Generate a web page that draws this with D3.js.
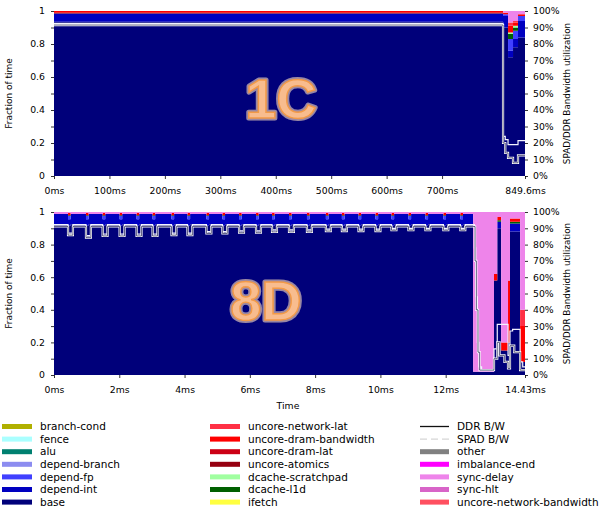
<!DOCTYPE html>
<meta charset="utf-8">
<html>
<head>
<script src="https://d3js.org/d3.v7.min.js"></script>
<style>
  body { margin: 0; background: #fff; }
  text { font-family: "DejaVu Sans", sans-serif; }
</style>
</head>
<body>
<div id="chart"></div>
<script>

// legend, three columns as in the figure
var legendCols = [
    ["branch-cond", "fence", "alu", "depend-branch", "depend-fp", "depend-int", "base"],
    ["uncore-network-lat", "uncore-dram-bandwidth", "uncore-dram-lat", "uncore-atomics", "dcache-scratchpad", "dcache-l1d", "ifetch"],
    ["DDR B/W", "SPAD B/W", "other", "imbalance-end", "sync-delay", "sync-hlt", "uncore-network-bandwidth"]
];

var colors = {
    "branch-cond": "#b0b000", "fence": "#aaffff", "alu": "#008070", "depend-branch": "#8c8cf0",
    "depend-fp": "#4040ff", "depend-int": "#0000c0", "base": "#00007a",
    "uncore-network-lat": "#ff3045", "uncore-dram-bandwidth": "#ff0000", "uncore-dram-lat": "#cc0015",
    "uncore-atomics": "#960010", "dcache-scratchpad": "#a0ffa0", "dcache-l1d": "#006000", "ifetch": "#ffff40",
    "other": "#808080", "imbalance-end": "#ff00ff", "sync-delay": "#ee84ea", "sync-hlt": "#d864c8",
    "uncore-network-bandwidth": "#ff5060"
};

// stacking order, bottom to top
var stackOrder = ["base", "depend-int", "depend-fp", "depend-branch", "alu", "fence", "branch-cond", "ifetch",
    "dcache-l1d", "dcache-scratchpad", "uncore-atomics", "uncore-dram-lat", "uncore-dram-bandwidth",
    "uncore-network-lat", "uncore-network-bandwidth", "sync-hlt", "sync-delay", "imbalance-end", "other"];

// ---- 1C run (ms) ----
var end1C = 849.6;
var ticks1C = [0, 100, 200, 300, 400, 500, 600, 700, 849.6];
var t1C         = [0,     810,  819,  828,  837];
var base1C      = [0.935, 0.90, 0.72, 0.78, 0.84];
var dependInt1C = [0.050, 0.07, 0.04, 0.05, 0.10];
var dependFp1C  = [0,     0.01, 0.07, 0.05, 0.03];
var dcacheL1d1C = [0,     0,    0.03, 0.02, 0];
var dcacheSp1C  = [0,     0,    0.01, 0.01, 0];
var atomics1C   = [0.005, 0,    0,    0,    0];
var dramBw1C    = [0.010, 0.01, 0.04, 0.02, 0.01];
var netLat1C    = [0,     0,    0.02, 0.01, 0];
var syncDelay1C = [0,     0.01, 0.07, 0.06, 0.02];

var spadT1C = [0,     810,  814,  819,  828,  837];
var spadV1C = [0.925, 0.24, 0.22, 0.19, 0.19, 0.215];
var ddrT1C  = [0,     810,  814,  819,  828,  837];
var ddrV1C  = [0.915, 0.20, 0.14, 0.11, 0.08, 0.125];

// ---- 8D run (ms) ----
var end8D = 14.43;
var ticks8D = [0, 2, 4, 6, 8, 10, 12, 14.43];
var dipT8D = [0.43, 0.98, 1.49, 2.01, 2.53, 3.02, 3.60, 4.09, 4.67, 5.16, 5.67, 6.19,
              6.68, 7.20, 7.75, 8.33, 8.82, 9.33, 9.85, 10.34, 10.86, 11.38, 11.93, 12.45];
var dipSpad8D = [0.87, 0.855, 0.865, 0.865, 0.865, 0.865, 0.87, 0.87, 0.88, 0.88, 0.885, 0.885,
                 0.89, 0.89, 0.89, 0.895, 0.895, 0.895, 0.895, 0.90, 0.90, 0.90, 0.90, 0.90];
var dipDdr8D  = [0.858, 0.843, 0.853, 0.853, 0.853, 0.853, 0.858, 0.858, 0.868, 0.868, 0.873, 0.873,
                 0.878, 0.878, 0.878, 0.883, 0.883, 0.883, 0.883, 0.888, 0.888, 0.888, 0.888, 0.888];
var dipLen8D = 0.15, spikeLen8D = 0.08;
var spadLevel8D = 0.922, ddrLevel8D = 0.911;
var steady8D = { "base": 0.925, "depend-int": 0.063, "sync-delay": 0.012 };
var spike8D  = { "base": 0.915, "depend-int": 0.04, "depend-fp": 0.02, "dcache-l1d": 0.005,
                 "uncore-dram-bandwidth": 0.015, "sync-delay": 0.005 };

var tailT8D      = [12.84, 13.48, 13.58, 13.70, 13.91, 13.97, 14.28];
var tailBase8D   = [0.02,  0.58,  0.90,  0.15,  0.20,  0.88,  0.08];
var tailInt8D    = [0,     0,     0.04,  0,     0,     0.05,  0];
var tailL1d8D    = [0,     0,     0.01,  0,     0,     0.01,  0];
var tailDramBw8D = [0,     0.04,  0.02,  0.05,  0.38,  0.02,  0.22];
var tailNetLat8D = [0,     0,     0,     0,     0,     0,     0.10];
var tailSync8D   = [0.98,  0.38,  0.03,  0.80,  0.42,  0.04,  0.60];

var spadTailT8D = [12.84, 12.88, 12.92, 12.97, 13.02, 13.10, 13.48, 13.58, 13.91, 13.97, 14.05, 14.28, 14.36];
var spadTailV8D = [0.922, 0.78,  0.48,  0.20,  0.05,  0.03,  0.16,  0.31,  0.12,  0.27,  0.28,  0.08,  0.05];
var ddrTailT8D  = [12.84, 12.90, 12.94, 12.99, 13.04, 13.48, 13.58, 13.65, 13.80, 13.91, 13.97, 14.10, 14.28];
var ddrTailV8D  = [0.911, 0.70,  0.40,  0.14,  0.03,  0.10,  0.20,  0.12,  0.08,  0.04,  0.18,  0.14,  0.03];

// build the rows for the stacks
var rows1C = t1C.map(function (t, i) {
    return { t: t, "base": base1C[i], "depend-int": dependInt1C[i], "depend-fp": dependFp1C[i],
        "dcache-l1d": dcacheL1d1C[i], "dcache-scratchpad": dcacheSp1C[i], "uncore-atomics": atomics1C[i],
        "uncore-dram-bandwidth": dramBw1C[i], "uncore-network-lat": netLat1C[i], "sync-delay": syncDelay1C[i] };
});
rows1C.push(Object.assign({}, rows1C[rows1C.length - 1], { t: end1C }));

var rows8D = [Object.assign({ t: 0 }, steady8D)];
dipT8D.forEach(function (t) {
    rows8D.push(Object.assign({ t: t }, spike8D));
    rows8D.push(Object.assign({ t: t + spikeLen8D }, steady8D));
});
tailT8D.forEach(function (t, i) {
    rows8D.push({ t: t, "base": tailBase8D[i], "depend-int": tailInt8D[i], "dcache-l1d": tailL1d8D[i],
        "uncore-dram-bandwidth": tailDramBw8D[i], "uncore-network-lat": tailNetLat8D[i], "sync-delay": tailSync8D[i] });
});
rows8D.push(Object.assign({}, rows8D[rows8D.length - 1], { t: end8D }));

function zipPts(ts, vs, end) {
    var p = ts.map(function (t, i) { return [t, vs[i]]; });
    p.push([end, vs[vs.length - 1]]);
    return p;
}
function dipPts(level, dipVals, tailT, tailV, end) {
    var p = [[0, level]];
    dipT8D.forEach(function (t, i) { p.push([t, dipVals[i]]); p.push([t + dipLen8D, level]); });
    tailT.forEach(function (t, i) { p.push([t, tailV[i]]); });
    p.push([end, tailV[tailV.length - 1]]);
    return p;
}

var spad1C = zipPts(spadT1C, spadV1C, end1C);
var ddr1C = zipPts(ddrT1C, ddrV1C, end1C);
var spad8D = dipPts(spadLevel8D, dipSpad8D, spadTailT8D, spadTailV8D, end8D);
var ddr8D = dipPts(ddrLevel8D, dipDdr8D, ddrTailT8D, ddrTailV8D, end8D);

// ---- drawing ----
var W = 602, H = 512;
var left = 54, right = 525;

var svg = d3.select("#chart").append("svg")
    .attr("width", W).attr("height", H)
    .style("background", "#fff");

function panel(opts) {
    var x = d3.scaleLinear().domain([0, opts.end]).range([left, right]);
    var y = d3.scaleLinear().domain([0, 1]).range([opts.bottom, opts.top]);
    var yPct = d3.scaleLinear().domain([0, 100]).range([opts.bottom, opts.top]);
    var g = svg.append("g");

    var series = d3.stack().keys(stackOrder)
        .value(function (d, k) { return d[k] || 0; })(opts.rows);

    var area = d3.area().curve(d3.curveStepAfter)
        .x(function (d) { return x(d.data.t); })
        .y0(function (d) { return y(d[0]); })
        .y1(function (d) { return y(Math.min(1, d[1])); });

    g.selectAll("path.layer").data(series).join("path")
        .attr("class", "layer")
        .attr("fill", function (d) { return colors[d.key]; })
        .attr("d", area);

    var line = d3.line().curve(d3.curveStepAfter)
        .x(function (d) { return x(d[0]); })
        .y(function (d) { return y(d[1]); });

    // SPAD and DDR bandwidth lines
    g.append("path").attr("d", line(opts.spad)).attr("fill", "none")
        .attr("stroke", "#f2f2ff").attr("stroke-width", 1.2);
    g.append("path").attr("d", line(opts.ddr)).attr("fill", "none")
        .attr("stroke", "#ffffff").attr("stroke-width", 2.2);
    g.append("path").attr("d", line(opts.ddr)).attr("fill", "none")
        .attr("stroke", "#202050").attr("stroke-width", 0.7);

    // axes
    var xAxis = g.append("g").attr("transform", "translate(0," + opts.bottom + ")")
        .call(d3.axisBottom(x).tickValues(opts.ticks).tickSize(3).tickPadding(8)
            .tickFormat(function (d) { return d + "ms"; }));
    var yAxis = g.append("g").attr("transform", "translate(" + left + ",0)")
        .call(d3.axisLeft(y).tickValues([0, 0.2, 0.4, 0.6, 0.8, 1]).tickSize(3).tickPadding(6)
            .tickFormat(d3.format("~g")));
    var yMinor = g.append("g").attr("transform", "translate(" + left + ",0)")
        .call(d3.axisLeft(y).tickValues([0.1, 0.3, 0.5, 0.7, 0.9]).tickSize(3).tickFormat(""));
    var rAxis = g.append("g").attr("transform", "translate(" + right + ",0)")
        .call(d3.axisRight(yPct).tickValues(d3.range(0, 101, 10)).tickSize(3).tickPadding(5)
            .tickFormat(function (d) { return d + "%"; }));

    [xAxis, yAxis, yMinor, rAxis].forEach(function (a) {
        a.select(".domain").remove();
        a.selectAll("text").style("font-family", "DejaVu Sans").style("font-size", "9.3px").attr("fill", "#000");
        a.selectAll("line").attr("stroke", "#000").attr("stroke-width", 0.8);
    });

    var mid = (opts.top + opts.bottom) / 2;
    g.append("text").attr("transform", "translate(12," + mid + ") rotate(-90)")
        .attr("text-anchor", "middle").style("font-size", "9px").text("Fraction of time");
    g.append("text").attr("transform", "translate(570," + mid + ") rotate(-90)")
        .attr("text-anchor", "middle").style("font-size", "8.8px").text("SPAD/DDR Bandwidth utilization");

    // big run label
    g.append("text").attr("x", opts.labelX).attr("y", opts.labelY)
        .attr("text-anchor", "middle")
        .style("font-family", "Liberation Sans").style("font-weight", "bold").style("font-size", "56px")
        .attr("fill", "none").attr("stroke", "#ffe2c0").attr("stroke-width", 5).attr("stroke-linejoin", "round")
        .attr("opacity", 0.6).text(opts.label);
    g.append("text").attr("x", opts.labelX).attr("y", opts.labelY)
        .attr("text-anchor", "middle")
        .style("font-family", "Liberation Sans").style("font-weight", "bold").style("font-size", "56px")
        .attr("fill", "#f8bc8e").attr("stroke", "#f29a48").attr("stroke-width", 1.5)
        .text(opts.label);
}

panel({ rows: rows1C, end: end1C, ticks: ticks1C, top: 11, bottom: 176,
    spad: spad1C, ddr: ddr1C, label: "1C", labelX: 281, labelY: 118 });
panel({ rows: rows8D, end: end8D, ticks: ticks8D, top: 212, bottom: 375,
    spad: spad8D, ddr: ddr8D, label: "8D", labelX: 266, labelY: 320 });

svg.append("text").attr("x", 288).attr("y", 409).attr("text-anchor", "middle")
    .style("font-size", "9.3px").text("Time");

// legend
var swatchX = [2, 210, 420], textX = [40, 248, 457];
legendCols.forEach(function (col, c) {
    col.forEach(function (name, r) {
        var yy = 426.5 + r * 12.6;
        var x0 = swatchX[c], x1 = textX[c] - 8;
        if (name === "DDR B/W") {
            svg.append("line").attr("x1", x0).attr("x2", x1).attr("y1", yy).attr("y2", yy)
                .attr("stroke", "#111").attr("stroke-width", 1.3);
        } else if (name === "SPAD B/W") {
            svg.append("line").attr("x1", x0).attr("x2", x1).attr("y1", yy).attr("y2", yy)
                .attr("stroke", "#ccc").attr("stroke-width", 1).attr("stroke-dasharray", "7,4");
        } else {
            svg.append("rect").attr("x", x0).attr("y", yy - 2.5).attr("width", x1 - x0).attr("height", 5)
                .attr("fill", colors[name]);
        }
        svg.append("text").attr("x", textX[c]).attr("y", yy).attr("dy", "0.35em")
            .style("font-size", "10.5px").text(name);
    });
});

</script>
</body>
</html>
